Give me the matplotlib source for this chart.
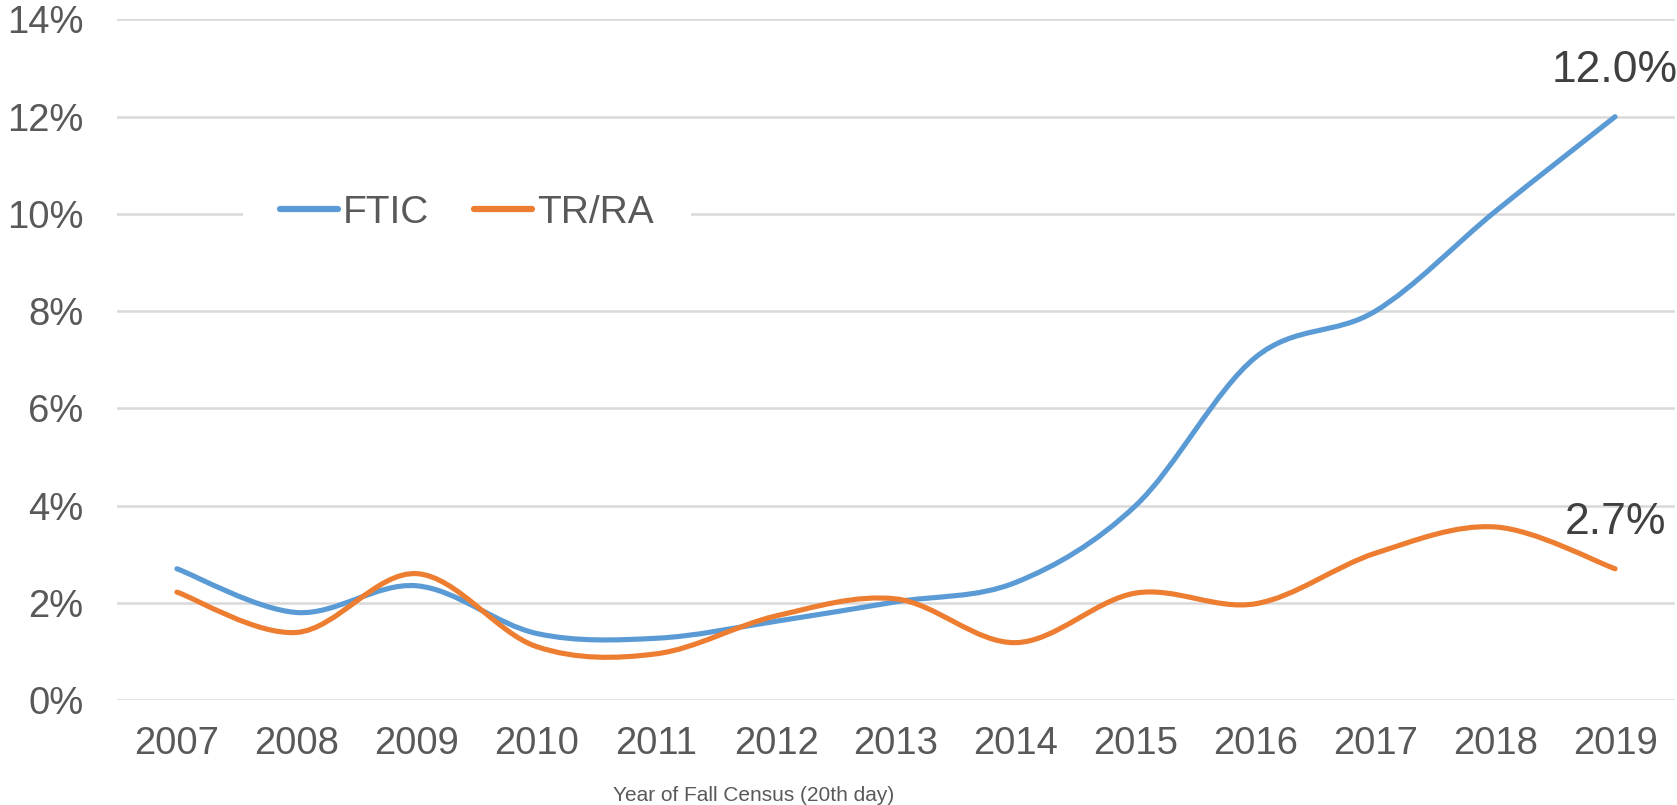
import matplotlib
matplotlib.use("Agg")
import matplotlib.pyplot as plt
import numpy as np
from matplotlib.lines import Line2D
from matplotlib.patches import PathPatch
from matplotlib.path import Path
from matplotlib.ticker import FuncFormatter

years = ["2007", "2008", "2009", "2010", "2011", "2012", "2013",
         "2014", "2015", "2016", "2017", "2018", "2019"]
ftic = [2.7, 1.8, 2.35, 1.37, 1.27, 1.62, 2.02, 2.42, 4.0, 7.05, 8.0, 10.05, 12.0]
trra = [2.22, 1.39, 2.6, 1.1, 0.95, 1.73, 2.08, 1.18, 2.2, 1.98, 3.02, 3.56, 2.7]
series_names = ["FTIC", "TR/RA"]
end_labels = ["12.0%", "2.7%"]

BLUE = "#5B9BD5"
ORANGE = "#ED7D31"
TEXT = "#595959"


def smooth_path(x, y):
    # Excel style smoothed line: cubic bezier through every point
    pts = np.column_stack([x, y]).astype(float)
    n = len(pts)
    verts = [pts[0]]
    codes = [Path.MOVETO]
    for i in range(n - 1):
        p0 = pts[i - 1] if i > 0 else pts[i]
        p1 = pts[i]
        p2 = pts[i + 1]
        p3 = pts[i + 2] if i + 2 < n else pts[i + 1]
        c1 = p1 + (p2 - p0) / 6.0
        c2 = p2 - (p3 - p1) / 6.0
        verts += [c1, c2, p2]
        codes += [Path.CURVE4] * 3
    return Path(verts, codes)


def main():
    plt.rcParams["font.family"] = ["Liberation Sans", "DejaVu Sans"]

    fig = plt.figure(figsize=(16.77, 8.05), dpi=100)
    ax = fig.add_axes([117 / 1677, 105 / 805, 1558 / 1677, 680.5 / 805])

    x = np.arange(len(years))
    values = [np.array(ftic) / 100, np.array(trra) / 100]
    colors = [BLUE, ORANGE]

    for vals, col in zip(values, colors):
        patch = PathPatch(smooth_path(x, vals), fill=False, edgecolor=col,
                          linewidth=3.7, capstyle="round", joinstyle="round", zorder=3)
        ax.add_patch(patch)

    for vals, lab in zip(values, end_labels):
        ax.annotate(lab, (x[-1], vals[-1]), xytext=(0, 33), textcoords="offset points",
                    ha="center", va="center", fontsize=32, color="#404040")

    ax.set_xlim(-0.5, len(years) - 0.5)
    ax.set_ylim(0, 0.14)
    ax.set_yticks(np.arange(0, 0.141, 0.02))
    ax.yaxis.set_major_formatter(FuncFormatter(lambda v, p: f"{v * 100:.0f}%"))
    ax.set_xticks(x)
    ax.set_xticklabels(years)

    ax.tick_params(axis="y", length=0, pad=24, labelsize=27.5, labelcolor=TEXT)
    ax.tick_params(axis="x", length=0, pad=19, labelsize=27.5, labelcolor=TEXT)
    for s in ax.spines.values():
        s.set_visible(False)
    ax.set_axisbelow(True)
    ax.yaxis.grid(True, color="#D9D9D9", linewidth=1.8)

    handles = [Line2D([], [], color=c, lw=4.5, solid_capstyle="round") for c in colors]
    leg = ax.legend(handles, series_names, loc="center", bbox_to_anchor=(0.2245, 0.7157),
                    ncol=2, frameon=True, fontsize=28, handlelength=1.5,
                    handletextpad=0.13, columnspacing=1.15, borderpad=0.95,
                    fancybox=False)
    leg.get_frame().set_facecolor("white")
    leg.get_frame().set_edgecolor("none")
    leg.get_frame().set_alpha(1)
    for t in leg.get_texts():
        t.set_color(TEXT)

    fig.text(754 / 1677, 1 - 795 / 805, "Year of Fall Census (20th day)",
             ha="center", va="center", fontsize=15, color=TEXT)

    fig.savefig("out.png", dpi=100, facecolor="white")


if __name__ == "__main__":
    main()
